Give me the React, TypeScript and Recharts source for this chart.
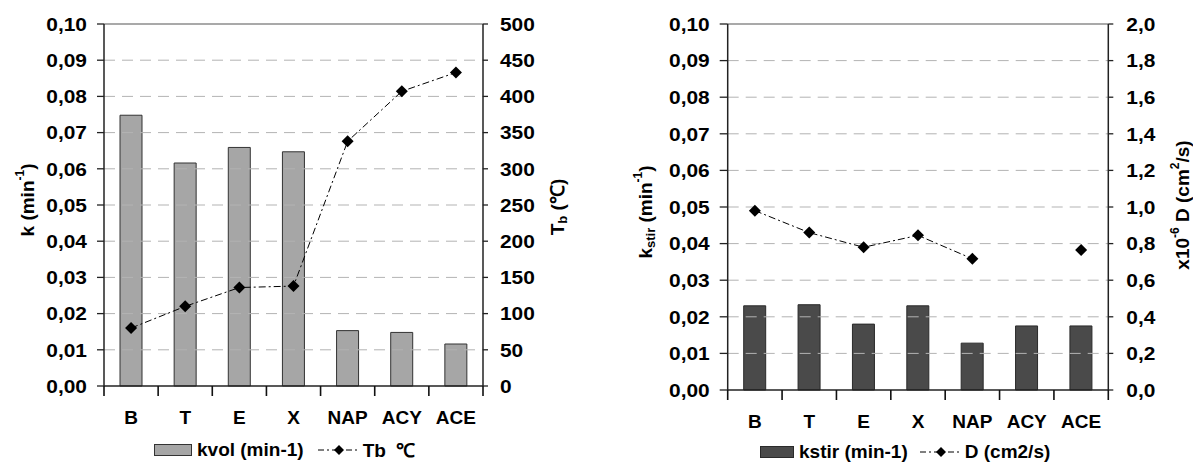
import React from 'react';
import { ComposedChart, Bar, Line, XAxis, YAxis, ReferenceLine } from 'recharts';

const categories = ['B', 'T', 'E', 'X', 'NAP', 'ACY', 'ACE'];
const kvol = [0.0748, 0.0616, 0.0659, 0.0647, 0.0153, 0.0148, 0.0116];
const tb = [80, 110, 136, 138, 338, 407, 433];
const kstir = [0.023, 0.0233, 0.018, 0.023, 0.0128, 0.0175, 0.0175];
const dcoef: (number | null)[] = [0.98, 0.86, 0.78, 0.845, 0.717, null, 0.765];

const kTicks = [0, 0.01, 0.02, 0.03, 0.04, 0.05, 0.06, 0.07, 0.08, 0.09, 0.1];
const tbTicks = [0, 50, 100, 150, 200, 250, 300, 350, 400, 450, 500];
const dTicks = [0, 0.2, 0.4, 0.6, 0.8, 1.0, 1.2, 1.4, 1.6, 1.8, 2.0];
const gridValues = kTicks.filter((v) => v > 0 && v < 0.1);

const leftData = categories.map((c, i) => ({ cat: c, kvol: kvol[i], tb: tb[i] }));
const rightData = categories.map((c, i) => ({ cat: c, kstir: kstir[i], d: dcoef[i] }));

const FONT = '"Liberation Sans", Arial, Helvetica, sans-serif';

// layout of the two charts (plot areas)
const L_W = 600, L_YL = 104, L_YR = 117, L_TOP = 24, L_BOTTOM = 89;
const R_W = 593, R_YL = 127.7, R_YR = 84.7, R_TOP = 24, R_BOTTOM = 85;
const H = 475;
const X_TICK_MARGIN = 25;

const YTick = (props: any) => {
  const { x, y, payload, textAnchor, fmt } = props;
  return (
    <text
      transform={`translate(${x},${y}) scale(1.1,1)`}
      textAnchor={textAnchor}
      dy="0.36em"
      fontFamily={FONT}
      fontWeight="bold"
      fontSize={19}
      fill="#000"
    >
      {fmt(payload.value)}
    </text>
  );
};

// category label + Excel-style tick marks at the category boundaries
const makeXTick = (plotW: number) => (props: any) => {
  const { x, y, payload, index } = props;
  const n = categories.length;
  const half = plotW / n / 2;
  const last = index === n - 1;
  const axisY = y - X_TICK_MARGIN;
  return (
    <g key={`xt-${index}`}>
      <rect x={x - half - 0.8} y={axisY} width={1.6} height={10} fill="#111" />
      {last && <rect x={x + half - 0.8} y={axisY} width={1.6} height={10} fill="#111" />}
      <text x={x} y={y} textAnchor="middle" dy="0.71em" fontFamily={FONT} fontWeight="bold" fontSize={19} fill="#000">
        {payload.value}
      </text>
    </g>
  );
};

const Diamond = (props: any) => {
  const { cx, cy, index } = props;
  if (cx == null || cy == null || props.value == null) return <g key={`d-${index}`} />;
  const s = 6;
  return <path key={`d-${index}`} d={`M${cx},${cy - s} L${cx + s},${cy} L${cx},${cy + s} L${cx - s},${cy} Z`} fill="#000" />;
};

const makeTitle = (dx: number, dy: number, content: React.ReactNode) => (p: any) => {
  const vb = p.viewBox || {};
  const cx = vb.x + dx;
  const cy = vb.y + vb.height / 2 + dy;
  return (
    <text
      transform={`rotate(-90 ${cx} ${cy})`}
      x={cx}
      y={cy}
      textAnchor="middle"
      dominantBaseline="central"
      fontFamily={FONT}
      fontWeight="bold"
      fontSize={19}
      fill="#000"
    >
      {content}
    </text>
  );
};

const fmt2 = (v: number) => v.toFixed(2).replace('.', ',');
const fmt1 = (v: number) => v.toFixed(1).replace('.', ',');
const fmt0 = (v: number) => String(v);

const LegendLine = () => (
  <svg width={42} height={14} style={{ display: 'block' }}>
    <line x1={0} y1={7} x2={42} y2={7} stroke="#000" strokeWidth={1} strokeDasharray="6 3 2 3" />
    <path d="M21,2 L26,7 L21,12 L16,7 Z" fill="#000" />
  </svg>
);

const legendStyle: React.CSSProperties = {
  position: 'absolute',
  display: 'flex',
  alignItems: 'center',
  fontFamily: FONT,
  fontWeight: 'bold',
  fontSize: 19,
  color: '#000',
  whiteSpace: 'nowrap',
};

const AXIS = { stroke: '#222', strokeWidth: 1.5 };
const TICKLINE = { stroke: '#222', strokeWidth: 1.3 };

const gridLines = () =>
  gridValues.map((v) => (
    <ReferenceLine key={`g-${v}`} yAxisId="l" xAxisId="c" y={v} stroke="#b3b3b3" strokeWidth={1} strokeDasharray="11 7" />
  ));

const leftXTick = makeXTick(L_W - L_YL - L_YR);
const rightXTick = makeXTick(R_W - R_YL - R_YR);

export default function App() {
  return (
    <div style={{ position: 'absolute', left: 0, top: 0, width: 1193, height: 475, background: '#fff', overflow: 'hidden' }}>
      <div style={{ position: 'absolute', left: 0, top: 0 }}>
        <ComposedChart width={L_W} height={H} data={leftData} margin={{ top: L_TOP, right: 0, left: 0, bottom: L_BOTTOM - 0.01 }} barCategoryGap={0}>
          <XAxis dataKey="cat" xAxisId="c" height={0.01} tickLine={false} tickSize={0} tickMargin={X_TICK_MARGIN} tick={leftXTick} axisLine={AXIS} interval={0} />
          <YAxis yAxisId="l" domain={[0, 0.1]} ticks={kTicks} width={L_YL} tickSize={7} tickMargin={10} tick={<YTick fmt={fmt2} />} tickLine={TICKLINE} axisLine={AXIS} interval={0}
            label={makeTitle(27, -5, <>
              <tspan>k (min</tspan><tspan dy={-7} fontSize={12}>-1</tspan><tspan dy={7}>)</tspan>
            </>)} />
          <YAxis yAxisId="r" orientation="right" domain={[0, 500]} ticks={tbTicks} width={L_YR} tickSize={5} tickMargin={12} tick={<YTick fmt={fmt0} />} tickLine={TICKLINE} axisLine={AXIS} interval={0}
            label={makeTitle(74, 2, <>
              <tspan>T</tspan><tspan dy={5} fontSize={13}>b</tspan><tspan dy={-5}> (℃)</tspan>
            </>)} />
          {gridLines()}
          <ReferenceLine yAxisId="l" xAxisId="c" y={0.1} stroke="#8c8c8c" strokeWidth={1.5} />
          <Bar dataKey="kvol" xAxisId="c" yAxisId="l" barSize={22} fill="#a6a6a6" stroke="#333" strokeWidth={1} isAnimationActive={false} />
          <Line dataKey="tb" xAxisId="c" yAxisId="r" type="linear" stroke="#000" strokeWidth={1} strokeDasharray="7 3 2 3" dot={Diamond} activeDot={false} isAnimationActive={false} />
        </ComposedChart>
      </div>
      <div style={{ position: 'absolute', left: 600, top: 0 }}>
        <ComposedChart width={R_W} height={H} data={rightData} margin={{ top: R_TOP, right: 0, left: 0, bottom: R_BOTTOM - 0.01 }} barCategoryGap={0}>
          <XAxis dataKey="cat" xAxisId="c" height={0.01} tickLine={false} tickSize={0} tickMargin={X_TICK_MARGIN} tick={rightXTick} axisLine={AXIS} interval={0} />
          <YAxis yAxisId="l" domain={[0, 0.1]} ticks={kTicks} width={R_YL} tickSize={8} tickMargin={10} tick={<YTick fmt={fmt2} />} tickLine={TICKLINE} axisLine={AXIS} interval={0}
            label={makeTitle(45, 5, <>
              <tspan>k</tspan><tspan dy={5} fontSize={13}>stir</tspan><tspan dy={-5}> (min</tspan><tspan dy={-7} fontSize={12}>-1</tspan><tspan dy={7}>)</tspan>
            </>)} />
          <YAxis yAxisId="r" orientation="right" domain={[0, 2]} ticks={dTicks} width={R_YR} tickSize={5} tickMargin={13} tick={<YTick fmt={fmt1} />} tickLine={TICKLINE} axisLine={AXIS} interval={0}
            label={makeTitle(73.4, -2, <>
              <tspan>x10</tspan><tspan dy={-7} fontSize={12}>-6</tspan><tspan dy={7}> D (cm</tspan><tspan dy={-7} fontSize={12}>2</tspan><tspan dy={7}>/s)</tspan>
            </>)} />
          {gridLines()}
          <ReferenceLine yAxisId="l" xAxisId="c" y={0.1} stroke="#8c8c8c" strokeWidth={1.5} />
          <Bar dataKey="kstir" xAxisId="c" yAxisId="l" barSize={22} fill="#4a4a4a" stroke="#2a2a2a" strokeWidth={1} isAnimationActive={false} />
          <Line dataKey="d" xAxisId="c" yAxisId="r" type="linear" connectNulls={false} stroke="#000" strokeWidth={1} strokeDasharray="7 3 2 3" dot={Diamond} activeDot={false} isAnimationActive={false} />
        </ComposedChart>
      </div>
      <div style={{ ...legendStyle, left: 154, top: 437 }}>
        <span style={{ display: 'inline-block', width: 36, height: 10, background: '#a6a6a6', border: '1px solid #333' }} />
        <span style={{ marginLeft: 5 }}>kvol (min-1)</span>
        <span style={{ marginLeft: 14 }}><LegendLine /></span>
        <span style={{ marginLeft: 3 }}>Tb&nbsp;&nbsp;℃</span>
      </div>
      <div style={{ ...legendStyle, left: 760, top: 441 }}>
        <span style={{ display: 'inline-block', width: 32, height: 10, background: '#4a4a4a', border: '1px solid #2a2a2a' }} />
        <span style={{ marginLeft: 5 }}>kstir (min-1)</span>
        <span style={{ marginLeft: 12 }}><LegendLine /></span>
        <span style={{ marginLeft: 3 }}>D (cm2/s)</span>
      </div>
    </div>
  );
}
